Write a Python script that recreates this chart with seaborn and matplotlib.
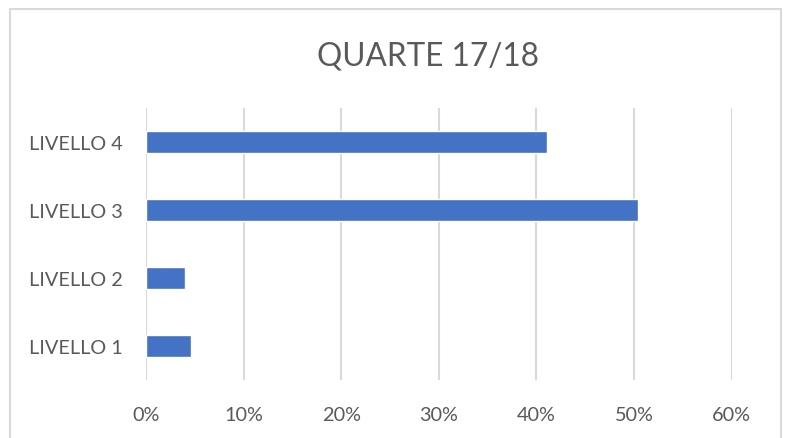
import matplotlib
matplotlib.use("Agg")
import matplotlib.pyplot as plt
import seaborn as sns
import pandas as pd
from matplotlib.patches import Rectangle
from matplotlib.ticker import PercentFormatter, MultipleLocator

categories = ["LIVELLO 1", "LIVELLO 2", "LIVELLO 3", "LIVELLO 4"]
values = [0.046, 0.040, 0.504, 0.411]
title = "QUARTE 17/18"

sns.set_theme(style="white")
plt.rcParams['font.family'] = ['Lato', 'DejaVu Sans']

df = pd.DataFrame({"cat": categories, "val": values})
order = categories[::-1]

W, H = 787, 439
fig = plt.figure(figsize=(W / 100, H / 100), dpi=100)
ax = fig.add_axes([146 / W, 1 - 381 / H, (731.5 - 146) / W, (381 - 109) / H])

sns.barplot(data=df, x="val", y="cat", order=order, orient="h",
            color="#4472C4", saturation=1, width=0.31, ax=ax, zorder=3)

ax.set_xlim(0, 0.6)
ax.set_ylim(3.5, -0.5)
ax.xaxis.set_major_locator(MultipleLocator(0.1))
ax.xaxis.set_major_formatter(PercentFormatter(1.0, decimals=0))
ax.grid(axis="x", color="#D9D9D9", linewidth=1.5, zorder=0)
ax.grid(axis="y", visible=False)
for s in ax.spines.values():
    s.set_visible(False)
ax.set_xlabel("")
ax.set_ylabel("")
ax.tick_params(axis="both", length=0, labelcolor="#595959", labelsize=14.3)
ax.tick_params(axis="x", pad=19)
ax.tick_params(axis="y", pad=17)

fig.text(428 / W, 1 - 66 / H, title, ha="center", va="baseline",
         fontsize=22.7, color="#595959")

fig.patches.append(Rectangle((9.5 / W, 1 - 445 / H), (780.5 - 9.5) / W, (445 - 10) / H,
                             transform=fig.transFigure, fill=False,
                             edgecolor="#D9D9D9", linewidth=1.5))

fig.savefig("out.png", dpi=100)
